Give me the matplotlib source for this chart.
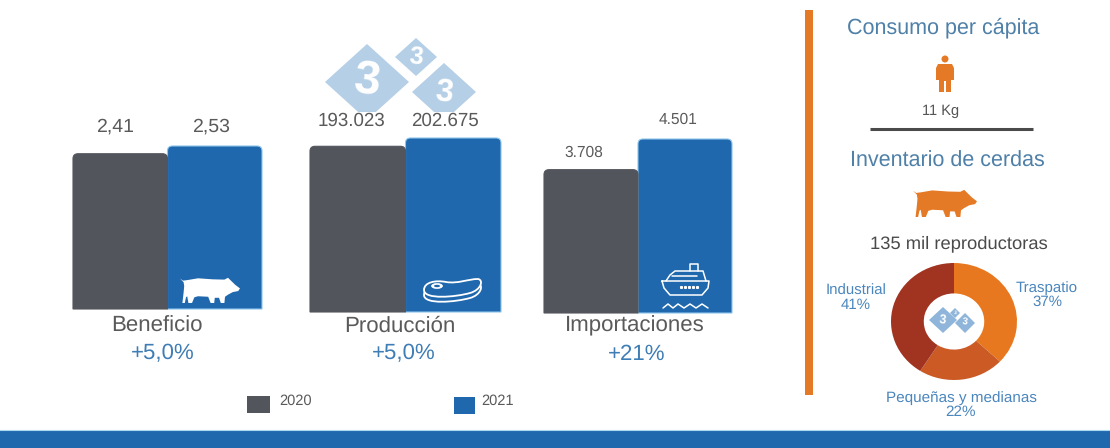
import matplotlib
matplotlib.use("Agg")
import matplotlib.pyplot as plt
from matplotlib.patches import Ellipse, PathPatch, Polygon, Rectangle
from matplotlib.path import Path

plt.rcParams["font.family"] = ["Liberation Sans", "DejaVu Sans"]
plt.rcParams["text.hinting"] = "none"

W, H = 1110, 448

# Chart data
groups = ["Beneficio", "Producción", "Importaciones"]
changes = ["+5,0%", "+5,0%", "+21%"]
years = ["2020", "2021"]
values_2020 = [2.41, 193023, 3708]
values_2021 = [2.53, 202675, 4501]
labels_2020 = ["2,41", "193.023", "3.708"]
labels_2021 = ["2,53", "202.675", "4.501"]
segments = ["Traspatio", "Pequeñas y medianas", "Industrial"]
shares = [37, 22, 41]

GRAY = "#53555c"
BLUE = "#1f68ae"
ORANGE = "#e57a26"
SHARE_COLORS = ["#e8781f", "#cb5a25", "#a03420"]
TEXT = "#5a5a5a"
HEAD = "#4f80a8"
PCT = "#3f7db5"
RING_TEXT = "#4a86bd"
LOGO = "#b5cfe6"
LOGO_SMALL = "#8fb6da"

fig = plt.figure(figsize=(W / 100, H / 100), dpi=100, facecolor="white")


def axes_px(left, top, right, bottom):
    return fig.add_axes([left / W, 1 - bottom / H, (right - left) / W, (bottom - top) / H])


def rounded_bar(ax, x0, x1, height, color, edge, rad_px=5):
    """Bar from 0 to height with rounded top corners, in data coordinates."""
    box = ax.get_position()
    rx = rad_px * (ax.get_xlim()[1] - ax.get_xlim()[0]) / (box.width * W)
    ry = rad_px * ax.get_ylim()[1] / (box.height * H)
    verts = [(x0, 0), (x0, height - ry), (x0, height), (x0 + rx, height),
             (x1 - rx, height), (x1, height), (x1, height - ry), (x1, 0), (x0, 0)]
    codes = [Path.MOVETO, Path.LINETO, Path.CURVE3, Path.CURVE3,
             Path.LINETO, Path.CURVE3, Path.CURVE3, Path.LINETO, Path.CLOSEPOLY]
    ax.add_patch(PathPatch(Path(verts, codes), facecolor=color, edgecolor=edge,
                           linewidth=0.8, clip_on=False))


# Grouped bars, one small axes per indicator
panel_boxes = [(73, 146, 262, 309), (310, 138, 501, 312), (544, 139, 732, 313)]
for box, v0, v1 in zip(panel_boxes, values_2020, values_2021):
    ax = axes_px(*box)
    ax.set_xlim(0, 2)
    ax.set_ylim(0, max(v0, v1))
    ax.axis("off")
    rounded_bar(ax, 1, 2, v1, BLUE, "#8cc4ea")
    rounded_bar(ax, 0, 1, v0, GRAY, GRAY)

# Composition ring
ring_ax = axes_px(891, 263, 1017, 380)
ring_ax.pie(shares, colors=SHARE_COLORS, startangle=90, counterclock=False, radius=1,
            wedgeprops=dict(width=0.52, linewidth=0))
ring_ax.set_aspect("auto")
ring_ax.set_xlim(-1, 1)
ring_ax.set_ylim(-1, 1)

# Overlay in pixel units for text, rules and pictograms
ov = fig.add_axes([0, 0, 1, 1])
ov.set_xlim(0, W)
ov.set_ylim(H, 0)
ov.axis("off")
ov.patch.set_alpha(0)


def label(x, y, s, size, color=TEXT, **kw):
    ov.text(x, y, s, fontsize=size, color=color, ha="center", va="center", zorder=6, **kw)


def diamond(cx, cy, rx, ry, num_size, color=LOGO):
    ov.add_patch(Polygon([(cx, cy - ry), (cx + rx, cy), (cx, cy + ry), (cx - rx, cy)],
                         facecolor=color, edgecolor="none", zorder=2))
    ov.text(cx, cy, "3", fontsize=num_size, color="white", fontweight="bold",
            ha="center", va="center", rotation=-6, zorder=3)


def fit(points, x0, y0, x1, y1):
    return [(x0 + px * (x1 - x0), y0 + py * (y1 - y0)) for px, py in points]


PIG = [(0, .06), (.05, .14), (.12, .12), (.3, .05), (.55, .09), (.74, .1), (.8, .03), (.84, .12),
       (.92, .3), (1, .44), (.97, .54), (.88, .58), (.8, .68), (.75, .76), (.74, 1), (.68, 1),
       (.65, .8), (.58, .8), (.57, 1), (.51, 1), (.47, .76), (.3, .74), (.24, .78), (.2, 1),
       (.14, 1), (.12, .74), (.1, .78), (.08, 1), (.04, 1), (.06, .6), (.07, .35), (.06, .2)]

# Logo above the production bars
diamond(367, 82, 42, 38, 34)
diamond(416, 57, 21, 19, 18)
diamond(444, 92, 32, 29, 23)

# Value labels above the bars
white_box = dict(facecolor="white", edgecolor="none", pad=0)
value_spots = [((115, 127), (211, 127), 14, None), ((351, 121), (445, 121), 13.5, white_box),
               ((584, 153), (678, 120), 11.2, None)]
for (p0, p1, size, box), s0, s1 in zip(value_spots, labels_2020, labels_2021):
    label(*p0, s0, size, bbox=box)
    label(*p1, s1, size, bbox=box)

# Group names and year-on-year change
for x_name, x_change, name, change in zip((157, 399.5, 635), (163, 404, 637), groups, changes):
    label(x_name, 326, name, 16)
    label(x_change, 354, change, 16, color=PCT)

# Legend
for x0, x1, y0, y1, color, year, tx in [(247, 270, 396, 413, GRAY, years[0], 296),
                                        (454, 475, 397, 414, BLUE, years[1], 498)]:
    ov.add_patch(Rectangle((x0, y0), x1 - x0, y1 - y0, facecolor=color, edgecolor="none"))
    label(tx, 401, year, 10.5)

# Pictograms on the blue bars
ov.add_patch(Polygon(fit(PIG, 180, 277, 240, 303), facecolor="white", edgecolor="none", zorder=4))


def steak_outline(dy):
    verts = [(424, 290 + dy), (424, 282 + dy), (436, 280 + dy), (446, 282 + dy),
             (458, 284 + dy), (468, 279 + dy), (478, 279 + dy),
             (484, 280 + dy), (481, 290 + dy), (470, 293 + dy),
             (456, 297 + dy), (424, 300 + dy), (424, 290 + dy)]
    codes = [Path.MOVETO] + [Path.CURVE4] * 12
    return Path(verts, codes)


ov.add_patch(PathPatch(steak_outline(5), facecolor=BLUE, edgecolor="white", lw=1.3, zorder=4))
ov.add_patch(PathPatch(steak_outline(0), facecolor=BLUE, edgecolor="white", lw=1.3, zorder=4))
ov.add_patch(Ellipse((437, 286), 11, 5, facecolor="white", edgecolor="white", lw=0.5, zorder=4))
ov.add_patch(Ellipse((437, 286), 6, 2.4, facecolor=BLUE, edgecolor="none", zorder=4))

ship_lines = [
    [(662, 281), (709, 281), (708, 288), (702, 295), (670, 295), (664, 288), (662, 281)],
    [(666, 281), (670, 275), (675, 271), (703, 271), (706, 281)],
    [(672, 276), (697, 276)],
    [(690, 271), (690, 264), (698, 264), (698, 271)],
    [(663, 308), (668, 304), (673, 308), (678, 304), (684, 308), (690, 304), (696, 308), (702, 304), (708, 308)],
]
for line in ship_lines:
    xs, ys = zip(*line)
    ov.plot(xs, ys, color="white", lw=1.1, zorder=4, solid_capstyle="round")
ov.plot([681, 685, 689, 693, 697], [287] * 5, ls="none", marker="s", ms=1.2, color="white", zorder=4)

# Side panel
ov.add_patch(Rectangle((805, 10), 8, 385, facecolor=ORANGE, edgecolor="none"))
label(943, 28, "Consumo per cápita", 15.5, color=HEAD)
label(941, 111, "11 Kg", 10.5, color="#555555")
ov.plot([870, 1033], [129, 129], color="#4a4a4a", lw=2.2, solid_capstyle="butt")
label(947, 161, "Inventario de cerdas", 15.5, color=HEAD)
label(959, 244, "135 mil reproductoras", 13.2, color="#4a4a4a")

# Person pictogram
ov.add_patch(Ellipse((945, 59), 7, 7, facecolor=ORANGE, edgecolor="none"))
ov.add_patch(Polygon([(938, 64), (952, 64), (954, 68), (954, 80), (951, 80), (951, 92), (946, 92),
                      (946, 81), (944, 81), (944, 92), (939, 92), (939, 80), (936, 80), (936, 68)],
                     facecolor=ORANGE, edgecolor="none"))
# Orange pig pictogram
ov.add_patch(Polygon(fit(PIG, 913, 189, 977, 217), facecolor=ORANGE, edgecolor="none"))

# Ring labels and its small logo
label(856, 298, "Industrial\n41%", 10.8, color=RING_TEXT, linespacing=1.05)
label(1047, 295, "Traspatio\n37%", 10.8, color=RING_TEXT, linespacing=1.05)
label(961, 405, "Pequeñas y medianas\n22%", 11, color=RING_TEXT, linespacing=1.05)
diamond(943, 320, 14, 13, 9, color=LOGO_SMALL)
diamond(955, 313, 5, 5, 3.5, color=LOGO_SMALL)
diamond(965, 323, 10, 10, 7, color=LOGO_SMALL)

# Footer band
ov.add_patch(Rectangle((0, 431), W, 17, facecolor=BLUE, edgecolor="none"))
ov.plot([0, W], [430.5, 430.5], color="#a9d8f0", lw=0.8)

fig.savefig("out.png", dpi=100, facecolor="white")
